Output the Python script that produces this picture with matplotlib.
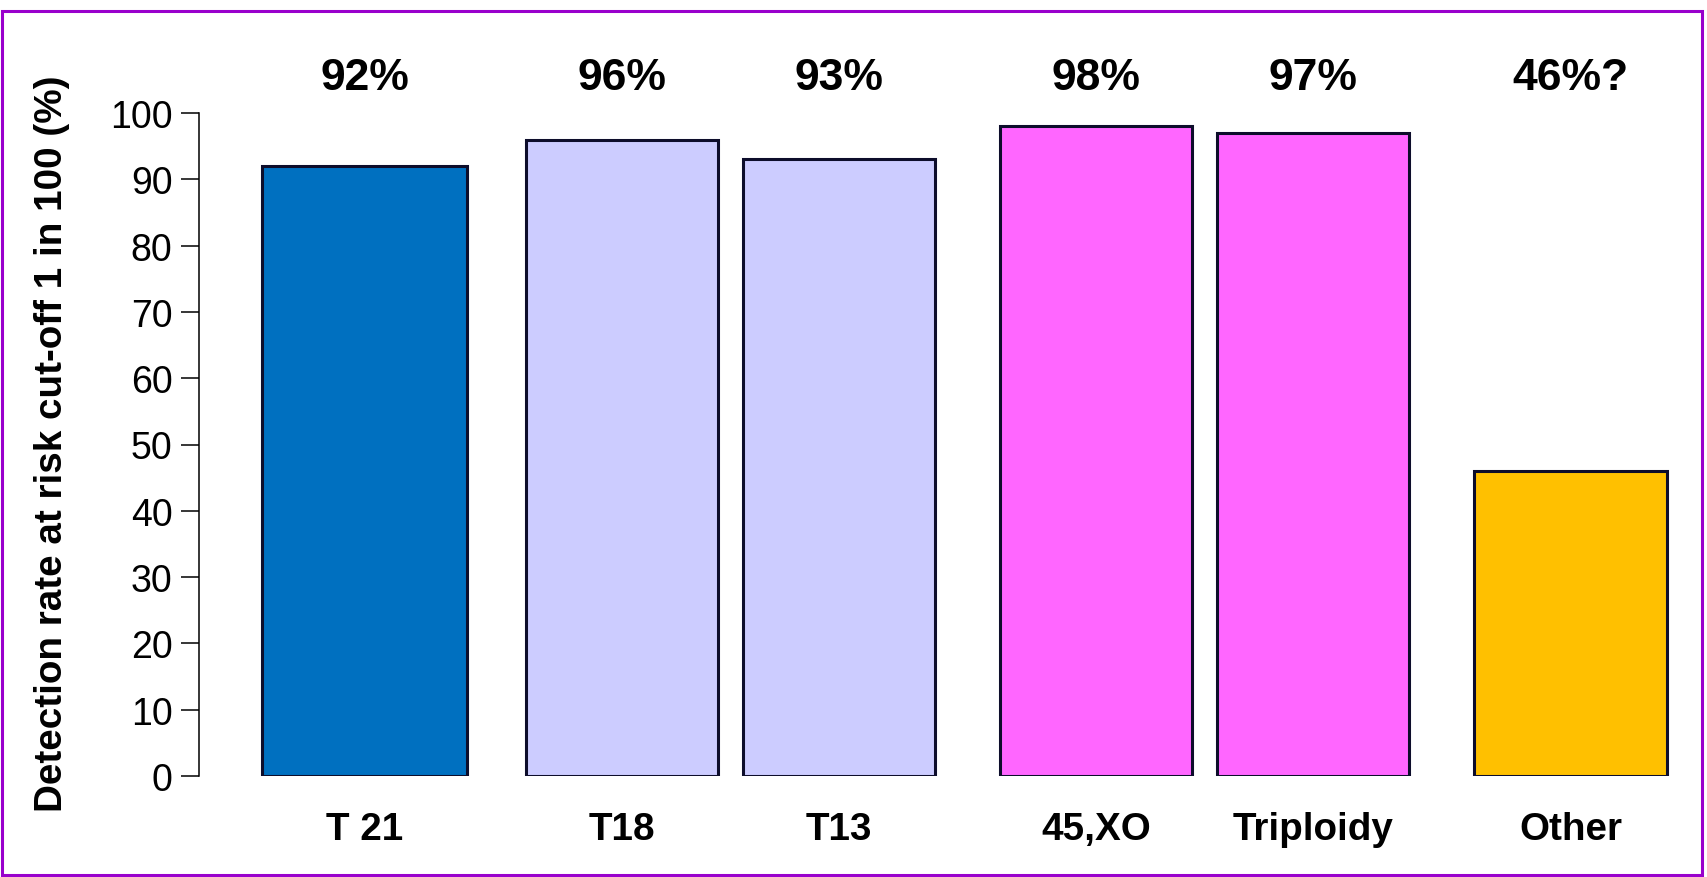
import matplotlib
matplotlib.use("Agg")
import matplotlib.pyplot as plt
from matplotlib.patches import Rectangle
from matplotlib.transforms import blended_transform_factory

plt.rcParams["font.family"] = ["Liberation Sans", "DejaVu Sans"]

# detection rates at 1 in 100 cut-off
categories = ["T 21", "T18", "T13", "45,XO", "Triploidy", "Other"]
rates = [92, 96, 93, 98, 97, 46]
rate_labels = ["92%", "96%", "93%", "98%", "97%", "46%?"]
groups = [0, 1, 1, 2, 2, 3]
colors = ["#0070C0", "#CCCCFF", "#CCCCFF", "#FF66FF", "#FF66FF", "#FFC000"]
yticks = list(range(0, 101, 10))

# bars sit one unit apart inside a group, with extra space between groups
group_gap = 0.19
xpos = [i + g * group_gap for i, g in enumerate(groups)]
widths = [0.947 if i == 0 else 0.887 for i in range(len(categories))]

W, H, DPI = 1707, 878, 100
fig = plt.figure(figsize=(W / DPI, H / DPI), dpi=DPI)
fig.patch.set_facecolor("white")

ax_l, ax_r, ax_t, ax_b = 199, 1690, 114, 777
ax = fig.add_axes([ax_l / W, 1 - ax_b / H, (ax_r - ax_l) / W, (ax_b - ax_t) / H])

ax.bar(xpos, rates, width=widths, color=colors, edgecolor="#0D0D2B",
       linewidth=2.2, zorder=2)

ax.set_ylim(0, 100)
ax.set_xlim(-0.764, 6.122)
ax.set_yticks(yticks)
ax.tick_params(axis="y", direction="out", length=13, width=1.1,
               labelsize=27, pad=6)
ax.set_xticks(xpos, categories, fontsize=27.8, fontweight="bold")
ax.tick_params(axis="x", length=0, pad=25)

for s in ["top", "right", "bottom"]:
    ax.spines[s].set_visible(False)
ax.spines["left"].set_linewidth(1.1)

trans = blended_transform_factory(ax.transData, fig.transFigure)
for x, lab in zip(xpos, rate_labels):
    ax.text(x, 1 - 78 / H, lab, transform=trans, ha="center", va="center",
            fontsize=32, fontweight="bold")

fig.text(52 / W, 1 - 444 / H, "Detection rate at risk cut-off 1 in 100 (%)",
         rotation=90, ha="center", va="center", fontsize=27.8, fontweight="bold")

# purple frame round the chart
fig.patches.append(Rectangle((2 / W, 1 - 876 / H), 1700 / W, 864 / H,
                             transform=fig.transFigure, fill=False,
                             edgecolor="#9900CC", linewidth=2.2))

fig.savefig("out.png", dpi=DPI, facecolor="white")
